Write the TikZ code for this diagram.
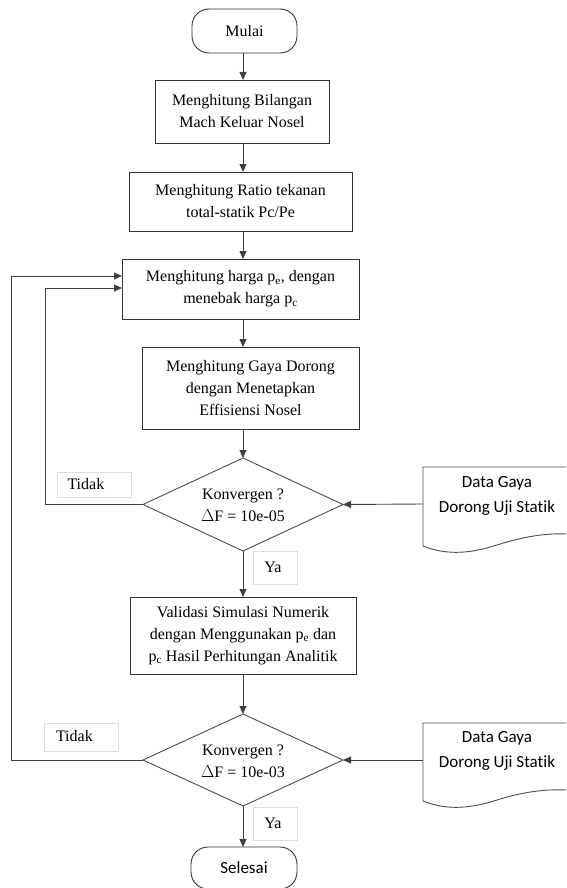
\documentclass[tikz,border=0pt]{standalone}
\usepackage{fontspec}
\setmainfont[Ligatures=NoCommon]{Liberation Serif}
\newfontfamily\calibri[Ligatures=NoCommon]{Carlito}
\usetikzlibrary{arrows.meta,calc}
\begin{document}
\begin{tikzpicture}[x=1pt,y=-1pt,
  every node/.style={inner sep=0pt, outer sep=0pt},
  sfont/.style={font=\fontsize{16}{22}\selectfont},
  box/.style={draw=black!80, line width=0.9pt, align=center, sfont},
  term/.style={draw=black!80, line width=0.9pt, rounded corners=17pt, align=center},
  dec/.style={draw=black!70, line width=0.9pt},
  lbl/.style={draw=black!13, line width=0.6pt, sfont},
  flow/.style={draw=black!75, line width=0.9pt, -{Triangle[width=7pt,length=8pt]}},
  plain/.style={draw=black!75, line width=0.9pt},
  doctext/.style={align=center, font=\calibri\fontsize{17}{25}\selectfont}
]
\useasboundingbox (0,0) rectangle (566,888);
\coordinate (axis) at (243,0);
\coordinate (lin) at (45,0);
\coordinate (lout) at (11,0);

% nodes
\node[term, minimum width=105pt, minimum height=44pt, sfont] (mulai) at (244.5,31) {Mulai};
\node[box, minimum width=174pt, minimum height=63pt] (b1) at (242,111.5)
  {\fontsize{16}{20}\selectfont Menghitung Bilangan\\Mach Keluar Nosel};
\node[box, minimum width=223pt, minimum height=59pt] (b2) at (240.5,201.5)
  {Menghitung Ratio tekanan\\total-statik Pc/Pe};
\node[box, minimum width=237pt, minimum height=60pt] (b3) at (240.5,289)
  {\fontsize{16}{23}\selectfont Menghitung harga p\textsubscript{e}, dengan\\menebak harga p\textsubscript{c}};
\node[box, minimum width=217pt, minimum height=82pt] (b4) at (250.5,388)
  {Menghitung Gaya Dorong\\dengan Menetapkan\\Effisiensi Nosel};

% decision 1
\node[dec, minimum width=0pt] (d1) at (243,504.5) {};
\coordinate (d1n) at (243,458);
\coordinate (d1s) at (243,551);
\coordinate (d1w) at (143,504.5);
\coordinate (d1e) at (343,504.5);
\draw[dec] (d1n) -- (d1e) -- (d1s) -- (d1w) -- cycle;
\node[align=center, sfont] (d1t) at (243,505) {Konvergen ?\\$\Delta$F = 10e-05};

\node[lbl, minimum width=74pt, minimum height=25pt] (tidak1) at (94,484.5) {};
\node[sfont, anchor=west] (tidak1t) at (67.5,484) {Tidak};
\node[lbl, minimum width=44pt, minimum height=33pt] (ya1) at (275,567.5) {};
\node[sfont] (ya1t) at (273,567.5) {Ya};

\node[box, minimum width=226pt, minimum height=77pt] (b5) at (243,635.5)
  {Validasi Simulasi Numerik\\dengan Menggunakan p\textsubscript{e} dan\\p\textsubscript{c} Hasil Perhitungan Analitik};

% decision 2
\node[dec, minimum width=0pt] (d2) at (243,760) {};
\coordinate (d2n) at (243,714);
\coordinate (d2s) at (243,806);
\coordinate (d2w) at (143,760);
\coordinate (d2e) at (343,760);
\draw[dec] (d2n) -- (d2e) -- (d2s) -- (d2w) -- cycle;
\node[align=center, sfont] (d2t) at (243,761) {Konvergen ?\\$\Delta$F = 10e-03};

\node[lbl, minimum width=74pt, minimum height=28pt] (tidak2) at (81,737) {};
\node[sfont, anchor=west] (tidak2t) at (56,736) {Tidak};
\node[lbl, minimum width=44pt, minimum height=33pt] (ya2) at (275,823.5) {};
\node[sfont] (ya2t) at (273,823.5) {Ya};

\node[term, minimum width=106pt, minimum height=42pt, font=\calibri\fontsize{17}{20}\selectfont] (selesai) at (244,868) {Selesai};

% document shapes
\draw[dec] (566,467) -- (423,467) -- (423,546)
  .. controls (448,556) and (472,553) .. (497,545)
  .. controls (522,537) and (545,533) .. (566,534);
\coordinate (doc1) at (423,504);
\node[doctext] (doc1t) at (497,495.5) {Data Gaya\\Dorong Uji Statik};

\draw[dec] (566,723) -- (423,723) -- (423,801)
  .. controls (448,811) and (472,808) .. (497,800)
  .. controls (522,792) and (545,789) .. (566,790);
\coordinate (doc2) at (423,760);
\node[doctext] (doc2t) at (497,751) {Data Gaya\\Dorong Uji Statik};

% connectors
\coordinate (in1) at (122,276);
\coordinate (in2) at (122,288);
\draw[flow] (mulai.south -| axis) -- (b1.north -| axis);
\draw[flow] (b1.south -| axis) -- (b2.north -| axis);
\draw[flow] (b2.south -| axis) -- (b3.north -| axis);
\draw[flow] (b3.south -| axis) -- (b4.north -| axis);
\draw[flow] (b4.south -| axis) -- (d1n);
\draw[flow] (d1s) -- (b5.north -| axis);
\draw[flow] (b5.south -| axis) -- (d2n);
\draw[flow] (d2s) -- (selesai.north -| axis);
\draw[flow] (doc1) -- (d1e);
\draw[flow] (doc2) -- (d2e);
\draw[flow] (d1w) -- (d1w -| lin) -- (lin |- in2) -- (in2);
\draw[flow] (d2w) -- (d2w -| lout) -- (lout |- in1) -- (in1);
\end{tikzpicture}
\end{document}
